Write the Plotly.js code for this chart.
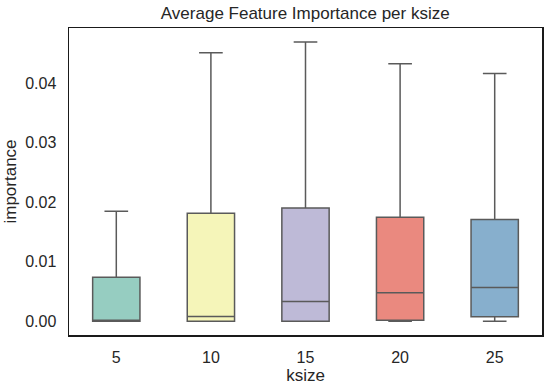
<!DOCTYPE html>
<html>
<head>
<meta charset="utf-8">
<script src="https://cdn.plot.ly/plotly-3.0.1.min.js"></script>
<style>html,body{margin:0;padding:0;background:#fff;}#chart{width:550px;height:387px;}</style>
</head>
<body>
<div id="chart"></div>
<script>
const categories = ["5", "10", "15", "20", "25"];
const lowerFence = [0.0, 0.0, 0.0, 0.0, 0.0];
const q1Values = [0.0, 0.0, 0.0, 0.00013, 0.00075];
const medianValues = [0.0, 0.0008, 0.00332, 0.00478, 0.00567];
const q3Values = [0.0074, 0.01814, 0.01904, 0.01747, 0.01708];
const upperFence = [0.01847, 0.04515, 0.04695, 0.0433, 0.04163];
const colors = ["rgb(150,205,193)", "rgb(245,245,185)", "rgb(190,186,215)", "rgb(234,137,127)", "rgb(135,175,205)"];

const traces = categories.map((c, i) => ({
  type: "box",
  x: [c],
  q1: [q1Values[i]],
  median: [medianValues[i]],
  q3: [q3Values[i]],
  lowerfence: [lowerFence[i]],
  upperfence: [upperFence[i]],
  boxpoints: false,
  fillcolor: colors[i],
  line: {color: "#5a5a5a", width: 1.5},
  width: 0.5,
  whiskerwidth: 0.5,
  showlegend: false,
  hoverinfo: "skip"
}));

const layout = {
  width: 550, height: 387,
  margin: {l: 69, r: 8, t: 28, b: 52},
  paper_bgcolor: "#fff", plot_bgcolor: "#fff",
  font: {family: "Liberation Sans, Arial, sans-serif", color: "#262626"},
  title: {text: "Average Feature Importance per ksize", font: {size: 17, color: "#262626"}, x: 0.555, xanchor: "center", y: 0.965, yanchor: "middle"},
  xaxis: {
    type: "category", range: [-0.5, 4.5],
    showgrid: false, zeroline: false,
    showline: true, mirror: true, linecolor: "#1a1a1a", linewidth: 1.5,
    ticks: "outside", ticklen: 7, tickcolor: "rgba(0,0,0,0)",
    tickfont: {size: 16, color: "#262626"},
    title: {text: "ksize", font: {size: 17, color: "#262626"}, standoff: 2}
  },
  yaxis: {
    range: [-0.00233, 0.0493],
    tickvals: [0, 0.01, 0.02, 0.03, 0.04],
    ticktext: ["0.00", "0.01", "0.02", "0.03", "0.04"],
    showgrid: false, zeroline: false,
    showline: true, mirror: true, linecolor: "#1a1a1a", linewidth: 1.5,
    ticks: "outside", ticklen: 8, tickcolor: "rgba(0,0,0,0)",
    tickfont: {size: 16, color: "#262626"},
    title: {text: "importance", font: {size: 17, color: "#262626"}, standoff: 4}
  }
};

Plotly.newPlot("chart", traces, layout, {staticPlot: true, displayModeBar: false});
</script>
</body>
</html>
